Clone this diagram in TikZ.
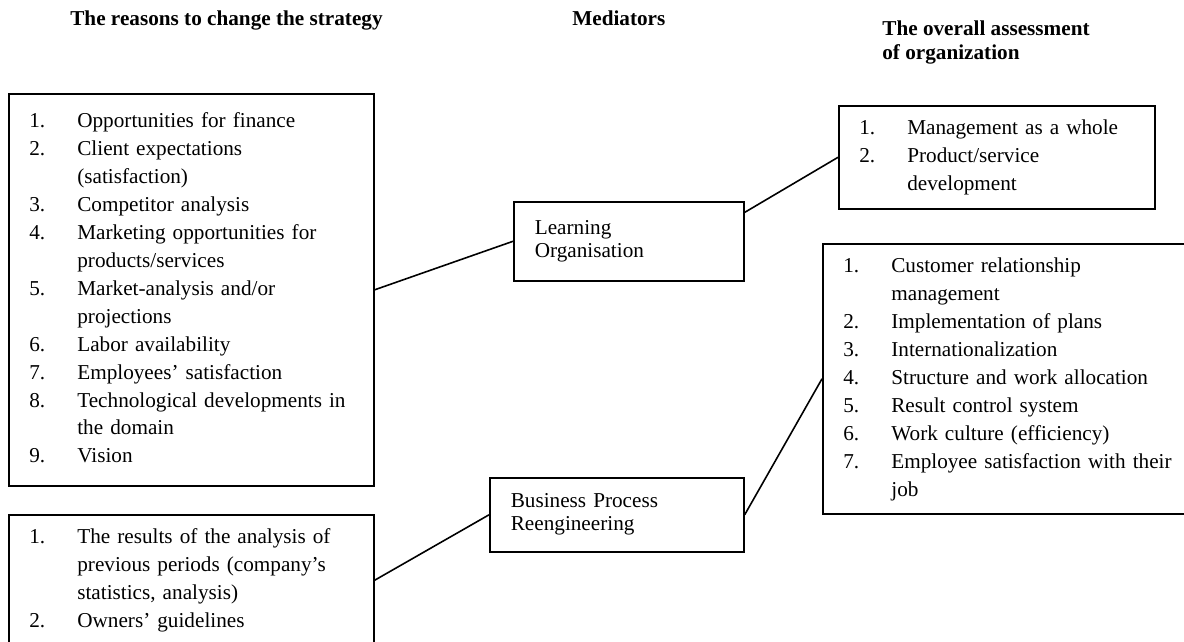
\documentclass[tikz,border=0pt]{standalone}
\usepackage{fontspec}
\setmainfont{Liberation Serif}
\usetikzlibrary{positioning}

% numbered lines inside the boxes
\newcommand{\litem}[2]{\makebox[27.2pt][l]{#1}\strut #2}
\newcommand{\lcont}[1]{\hspace*{27.2pt}\strut #1}

\begin{document}
\begin{tikzpicture}[x=0.566pt, y=-0.566pt,
    header/.style={font=\fontsize{12}{13.6}\selectfont\bfseries, inner sep=0pt, align=left},
    listbox/.style={draw, line width=0.9pt, anchor=north west, align=left, inner xsep=11.6pt, inner ysep=0pt, font=\fontsize{12}{15.8}\selectfont},
    medbox/.style={draw, line width=0.9pt, anchor=north west, align=left, inner xsep=11.9pt, inner ysep=0pt, font=\fontsize{12}{13}\selectfont},
    link/.style={line width=0.9pt}]
  \clip (0,0) rectangle (1184,641);

  % column titles
  \node[header, anchor=base west] (hreasons) at (70,25) {The reasons to change the strategy};
  \node[header, anchor=base west] (hmediators) at (572,25) {Mediators};
  \node[header, anchor=north west] (hoverall) at (882,20.5) {The overall assessment\\of organization};

  % reasons
  \node[listbox, text width=183.4pt, minimum height=221.9pt] (reasons) at (8,93) {%
    \litem{1.}{Opportunities for finance}\\
    \litem{2.}{Client expectations}\\
    \lcont{(satisfaction)}\\
    \litem{3.}{Competitor analysis}\\
    \litem{4.}{Marketing opportunities for}\\
    \lcont{products/services}\\
    \litem{5.}{Market-analysis and/or}\\
    \lcont{projections}\\
    \litem{6.}{Labor availability}\\
    \litem{7.}{Employees' satisfaction}\\
    \litem{8.}{Technological developments in}\\
    \lcont{the domain}\\
    \litem{9.}{Vision}};
  \node[listbox, text width=183.4pt, minimum height=74.1pt] (history) at (8,514) {%
    \litem{1.}{The results of the analysis of}\\
    \lcont{previous periods (company's}\\
    \lcont{statistics, analysis)}\\
    \litem{2.}{Owners' guidelines}};

  % mediators
  \node[medbox, text width=106.4pt, minimum height=44.7pt] (learning) at (513,201) {\strut Learning\\\strut Organisation};
  \node[medbox, text width=120pt, minimum height=41.9pt] (bpr) at (489,477) {\strut Business Process\\\strut Reengineering};

  % assessment
  \node[listbox, text width=155.7pt, minimum height=58.3pt] (overall) at (838,105) {%
    \litem{1.}{Management as a whole}\\
    \litem{2.}{Product/service}\\
    \lcont{development}};
  \node[listbox, text width=196pt, minimum height=152.8pt] (areas) at (822,243) {%
    \litem{1.}{Customer relationship}\\
    \lcont{management}\\
    \litem{2.}{Implementation of plans}\\
    \litem{3.}{Internationalization}\\
    \litem{4.}{Structure and work allocation}\\
    \litem{5.}{Result control system}\\
    \litem{6.}{Work culture (efficiency)}\\
    \litem{7.}{Employee satisfaction with their}\\
    \lcont{job}};

  % connectors
  \draw[link] (reasons.east) -- (learning.west);
  \draw[link] (history.east) -- (bpr.west);
  \draw[link] (learning.14) -- (overall.west);
  \draw[link] (bpr.east) -- (areas.west);
\end{tikzpicture}
\end{document}
